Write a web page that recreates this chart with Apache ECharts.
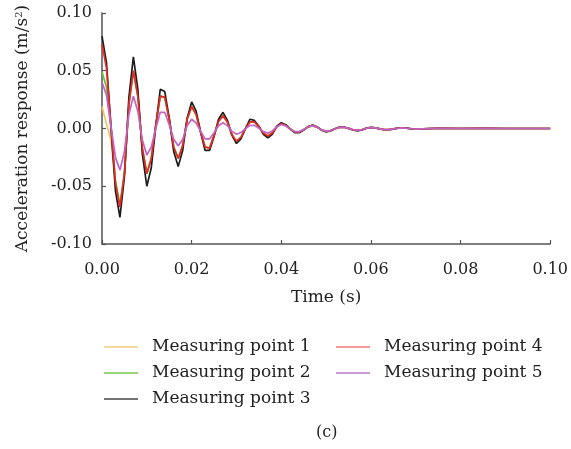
<!DOCTYPE html>
<html>
<head>
<meta charset="utf-8">
<script src="https://cdn.jsdelivr.net/npm/echarts@6/dist/echarts.min.js"></script>
<style>
  html, body { margin: 0; padding: 0; background: #fff; }
  #chart { width: 571px; height: 449px; }
</style>
</head>
<body>
<div id="chart"></div>
<script>
// Sample times (s)
const times = [
  0.000, 0.001, 0.002, 0.003, 0.004, 0.005, 0.006, 0.007, 0.008, 0.009,
  0.010, 0.011, 0.012, 0.013, 0.014, 0.015, 0.016, 0.017, 0.018, 0.019,
  0.020, 0.021, 0.022, 0.023, 0.024, 0.025, 0.026, 0.027, 0.028, 0.029,
  0.030, 0.031, 0.032, 0.033, 0.034, 0.035, 0.036, 0.037, 0.038, 0.039,
  0.040, 0.041, 0.042, 0.043, 0.044, 0.045, 0.046, 0.047, 0.048, 0.049,
  0.050, 0.051, 0.052, 0.053, 0.054, 0.055, 0.056, 0.057, 0.058, 0.059,
  0.060, 0.061, 0.062, 0.063, 0.064, 0.065, 0.066, 0.067, 0.068, 0.069,
  0.070, 0.075, 0.080, 0.085, 0.090, 0.095, 0.100
];

// Acceleration response (m/s^2) at each measuring point
const point1 = [
  0.019, 0.004, -0.010, -0.045, -0.066, -0.039, 0.021, 0.050, 0.028, -0.017,
  -0.039, -0.026, 0.003, 0.028, 0.027, 0.008, -0.016, -0.026, -0.015, 0.008,
  0.019, 0.012, -0.003, -0.016, -0.017, -0.006, 0.006, 0.011, 0.0055, -0.0055,
  -0.011, -0.0077, -0.0003, 0.0056, 0.0059, 0.0014, -0.004, -0.0065, -0.0039, 0.0014,
  0.004, 0.0026, -0.0005, -0.0029, -0.003, -0.001, 0.0014, 0.0025, 0.0012, -0.0012,
  -0.0025, -0.0018, -0.0002, 0.001, 0.0011, 0.0001, -0.0011, -0.0017, -0.0011, 0.0002,
  0.0008, 0.0005, -0.0003, -0.0009, -0.0009, -0.0004, 0.0002, 0.0005, 0.0002, -0.0002,
  -0.0005, 0.0002, 0, 0.0001, 0, 0, 0
];
const point2 = [
  0.049, 0.036, 0.001, -0.046, -0.067, -0.039, 0.021, 0.050, 0.028, -0.017,
  -0.039, -0.026, 0.003, 0.028, 0.027, 0.008, -0.016, -0.026, -0.015, 0.008,
  0.019, 0.012, -0.003, -0.016, -0.017, -0.006, 0.006, 0.011, 0.0055, -0.0055,
  -0.011, -0.0077, -0.0003, 0.0056, 0.0059, 0.0014, -0.004, -0.0065, -0.0039, 0.0014,
  0.004, 0.0026, -0.0005, -0.0029, -0.003, -0.001, 0.0014, 0.0025, 0.0012, -0.0012,
  -0.0025, -0.0018, -0.0002, 0.001, 0.0011, 0.0001, -0.0011, -0.0017, -0.0011, 0.0002,
  0.0008, 0.0005, -0.0003, -0.0009, -0.0009, -0.0004, 0.0002, 0.0005, 0.0002, -0.0002,
  -0.0005, 0.0002, 0, 0.0001, 0, 0, 0
];
const point3 = [
  0.080, 0.057, 0.0015, -0.054, -0.077, -0.042, 0.027, 0.062, 0.034, -0.022,
  -0.050, -0.034, 0.002, 0.034, 0.032, 0.009, -0.020, -0.033, -0.019, 0.009,
  0.023, 0.015, -0.003, -0.019, -0.019, -0.007, 0.008, 0.014, 0.007, -0.006,
  -0.013, -0.009, 0.000, 0.008, 0.007, 0.002, -0.005, -0.008, -0.005, 0.002,
  0.005, 0.0033, -0.0005, -0.0036, -0.0037, -0.0013, 0.0017, 0.003, 0.0015, -0.0015,
  -0.003, -0.0021, -0.0002, 0.0013, 0.0013, 0.0001, -0.0013, -0.002, -0.0012, 0.0003,
  0.001, 0.0006, -0.0003, -0.0011, -0.0011, -0.0005, 0.0003, 0.0006, 0.0003, -0.0003,
  -0.0006, 0.0002, 0, 0.0001, 0, 0, 0
];
const point4 = [
  0.073, 0.052, 0.0025, -0.047, -0.068, -0.039, 0.021, 0.050, 0.028, -0.017,
  -0.039, -0.026, 0.003, 0.028, 0.027, 0.008, -0.016, -0.026, -0.015, 0.008,
  0.019, 0.012, -0.003, -0.016, -0.017, -0.006, 0.006, 0.011, 0.0055, -0.0055,
  -0.011, -0.0077, -0.0003, 0.0056, 0.0059, 0.0014, -0.004, -0.0065, -0.0039, 0.0014,
  0.004, 0.0026, -0.0005, -0.0029, -0.003, -0.001, 0.0014, 0.0025, 0.0012, -0.0012,
  -0.0025, -0.0018, -0.0002, 0.001, 0.0011, 0.0001, -0.0011, -0.0017, -0.0011, 0.0002,
  0.0008, 0.0005, -0.0003, -0.0009, -0.0009, -0.0004, 0.0002, 0.0005, 0.0002, -0.0002,
  -0.0005, 0.0002, 0, 0.0001, 0, 0, 0
];
const point5 = [
  0.040, 0.029, 0.002, -0.025, -0.036, -0.020, 0.012, 0.028, 0.015, -0.010,
  -0.023, -0.016, 0.000, 0.014, 0.014, 0.0033, -0.0093, -0.015, -0.0093, 0.0023,
  0.008, 0.0048, -0.0024, -0.009, -0.009, -0.0036, 0.0024, 0.005, 0.0025, -0.0025,
  -0.005, -0.0035, -0.0001, 0.0026, 0.0027, 0.0003, -0.0027, -0.004, -0.0021, 0.0016,
  0.0035, 0.0023, -0.0005, -0.0027, -0.0027, -0.0009, 0.0015, 0.0025, 0.0012, -0.0012,
  -0.0025, -0.0018, -0.0002, 0.001, 0.0011, 0.0001, -0.0011, -0.0017, -0.0011, 0.0002,
  0.0008, 0.0005, -0.0003, -0.0009, -0.0009, -0.0004, 0.0002, 0.0005, 0.0002, -0.0002,
  -0.0005, 0.0002, 0, 0.0001, 0, 0, 0
];

const seriesNames = ['Measuring point 1', 'Measuring point 2', 'Measuring point 3',
                     'Measuring point 4', 'Measuring point 5'];
const seriesValues = [point1, point2, point3, point4, point5];
const seriesColors = ['#f2c463', '#62c23c', '#1e1e1e', '#e42a26', '#c263c6'];
const legendColors = ['#f3cc82', '#74c84c', '#444444', '#f07878', '#b878c8'];

const FONT = 'DejaVu Serif';
const AXIS_COLOR = '#555555';
const TEXT_COLOR = '#222222';

const chart = echarts.init(document.getElementById('chart'), null, { renderer: 'canvas' });

const series = seriesNames.map((name, i) => ({
  name: name,
  type: 'line',
  data: times.map((t, k) => [t, seriesValues[i][k]]),
  showSymbol: false,
  symbol: 'none',
  lineStyle: { color: seriesColors[i], width: 1.7 },
  itemStyle: { color: legendColors[i] },
  animation: false,
  z: 2 + i
}));

const legendCommon = {
  orient: 'vertical',
  icon: 'rect',
  itemWidth: 34,
  itemHeight: 1.5,
  itemGap: 6,
  textStyle: {
    fontFamily: FONT, fontSize: 17, color: TEXT_COLOR,
    lineHeight: 20, padding: [0, 0, 0, 9]
  }
};

chart.setOption({
  animation: false,
  backgroundColor: '#ffffff',
  grid: { left: 102, right: 19, top: 13, bottom: 205, containLabel: false },
  legend: [
    Object.assign({ left: 99, top: 332, data: seriesNames.slice(0, 3) }, legendCommon),
    Object.assign({ left: 331, top: 332, data: seriesNames.slice(3) }, legendCommon)
  ],
  xAxis: {
    type: 'value',
    min: 0, max: 0.1, interval: 0.02,
    name: 'Time (s)',
    nameLocation: 'middle',
    nameGap: 45,
    nameTextStyle: { fontFamily: FONT, fontSize: 17, color: TEXT_COLOR },
    axisLine: { onZero: false, lineStyle: { color: AXIS_COLOR, width: 1.5 } },
    axisTick: { inside: true, length: 4, lineStyle: { color: AXIS_COLOR, width: 1.2 } },
    axisLabel: {
      fontFamily: FONT, fontSize: 16, color: TEXT_COLOR, margin: 18,
      formatter: v => v.toFixed(2)
    },
    splitLine: { show: false }
  },
  yAxis: {
    type: 'value',
    min: -0.1, max: 0.1, interval: 0.05,
    name: 'Acceleration response (m/s{sup|2})',
    nameLocation: 'middle',
    nameRotate: 90,
    nameGap: 70,
    nameTextStyle: {
      fontFamily: FONT, fontSize: 17, color: TEXT_COLOR,
      rich: {
        sup: { fontFamily: FONT, fontSize: 10, color: TEXT_COLOR, verticalAlign: 'top', padding: [0, 0, 8, 0] }
      }
    },
    axisLine: { onZero: false, lineStyle: { color: AXIS_COLOR, width: 1.5 } },
    axisTick: { inside: true, length: 4, lineStyle: { color: AXIS_COLOR, width: 1.2 } },
    axisLabel: {
      fontFamily: FONT, fontSize: 16, color: TEXT_COLOR, margin: 10,
      formatter: v => v.toFixed(2)
    },
    splitLine: { show: false }
  },
  graphic: [{
    type: 'text',
    left: 316, top: 425,
    style: { text: '(c)', font: '16px "DejaVu Serif"', fill: TEXT_COLOR }
  }],
  series: series
});
</script>
</body>
</html>
